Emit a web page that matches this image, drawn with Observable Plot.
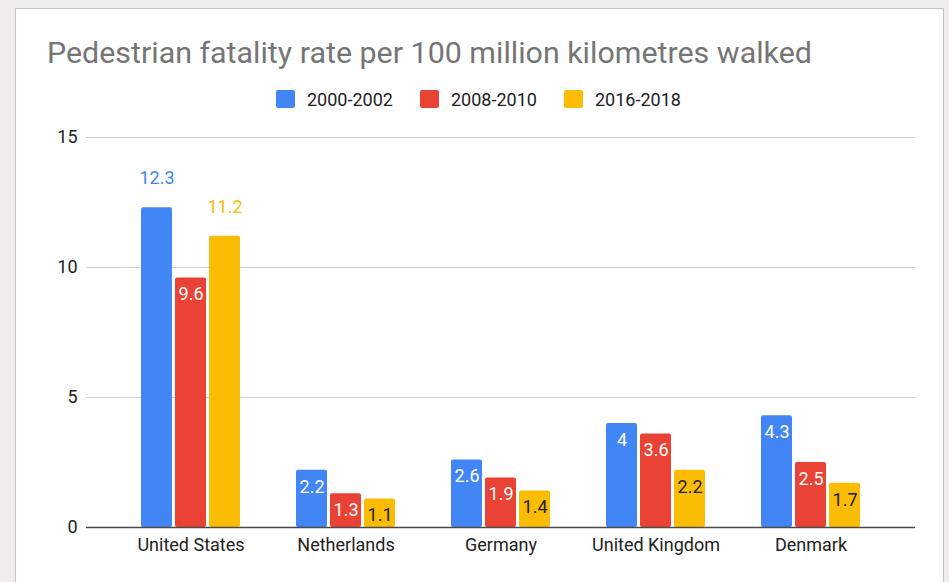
<!DOCTYPE html>
<html>
<head>
<meta charset="utf-8">
<script src="https://cdn.jsdelivr.net/npm/d3@7"></script>
<script src="https://cdn.jsdelivr.net/npm/@observablehq/plot@0.6"></script>
<style>
  html, body { margin: 0; padding: 0; }
  body { background: #efede9; width: 949px; height: 582px; overflow: hidden; position: relative; font-family: Roboto, "Noto Sans", sans-serif; }
  #card { position: absolute; left: 15px; top: 8px; width: 929px; height: 600px; background: #fff; border: 1px solid #c4c4c4; box-sizing: border-box; }
  #title { position: absolute; left: 47px; top: 37.5px; font-size: 30.4px; line-height: 1; color: #757575; white-space: nowrap; }
  .sw { position: absolute; top: 90px; width: 19px; height: 18px; border-radius: 2px; }
  .lt { position: absolute; top: 91px; font-size: 18px; line-height: 1; color: #222; white-space: nowrap; }
  #chart { position: absolute; left: 0; top: 120px; }
</style>
</head>
<body>
<div id="card"></div>
<div id="title">Pedestrian fatality rate per 100 million kilometres walked</div>
<div id="legend"></div>
<div id="chart"></div>
<script>
const countries = ["United States", "Netherlands", "Germany", "United Kingdom", "Denmark"];
const periods = ["2000-2002", "2008-2010", "2016-2018"];
const rate2000 = [12.3, 2.2, 2.6, 4, 4.3];
const rate2008 = [9.6, 1.3, 1.9, 3.6, 2.5];
const rate2016 = [11.2, 1.1, 1.4, 2.2, 1.7];
const yTicks = [0, 5, 10, 15];

const colors = ["#4285f4", "#ea4335", "#fbbc04"];
const insideText = ["#ffffff", "#ffffff", "#212121"];
const offsets = [-34, 0, 34];
const series = [rate2000, rate2008, rate2016];

const rows = periods.flatMap((p, i) => countries.map((c, j) => ({country: c, period: p, value: series[i][j]})));

// legend
const legendX = [276, 420, 564];
const legend = document.getElementById("legend");
periods.forEach((p, i) => {
  const sw = document.createElement("div");
  sw.className = "sw"; sw.style.left = legendX[i] + "px"; sw.style.background = colors[i];
  const t = document.createElement("div");
  t.className = "lt"; t.style.left = (legendX[i] + 31) + "px"; t.textContent = p;
  legend.appendChild(sw); legend.appendChild(t);
});

const marks = [
  Plot.ruleY(yTicks.filter(d => d > 0), {stroke: "#d0d0d0", strokeWidth: 1})
];
periods.forEach((p, i) => {
  marks.push(Plot.barY(rows.filter(d => d.period === p), {x: "country", y: "value", fill: colors[i], dx: offsets[i], rx: 2}));
});
marks.push(Plot.ruleY([0], {stroke: "#4a4a4a", strokeWidth: 1.5}));
periods.forEach((p, i) => {
  marks.push(Plot.text(rows.filter(d => d.period === p && d.value <= 10), {
    x: "country", y: "value", text: d => String(d.value), dx: offsets[i], dy: 16.5,
    fill: insideText[i], fontSize: 18, fontFamily: "Roboto"
  }));
  marks.push(Plot.text(rows.filter(d => d.period === p && d.value > 10), {
    x: "country", y: "value", text: d => String(d.value), dx: offsets[i], dy: -29,
    fill: colors[i], fontSize: 18, fontFamily: "Roboto"
  }));
});

const chart = Plot.plot({
  width: 949,
  height: 440,
  marginTop: 17,
  marginBottom: 33,
  marginLeft: 86,
  marginRight: 34,
  style: {fontSize: "18px", fontFamily: "Roboto", color: "#222", background: "transparent"},
  x: {domain: countries, paddingInner: 0.803, paddingOuter: 0.5735, tickSize: 0, tickPadding: 11, label: null},
  y: {domain: [0, 15], ticks: yTicks, tickSize: 0, tickPadding: 9, label: null},
  marks
});
document.getElementById("chart").appendChild(chart);
</script>
</body>
</html>
